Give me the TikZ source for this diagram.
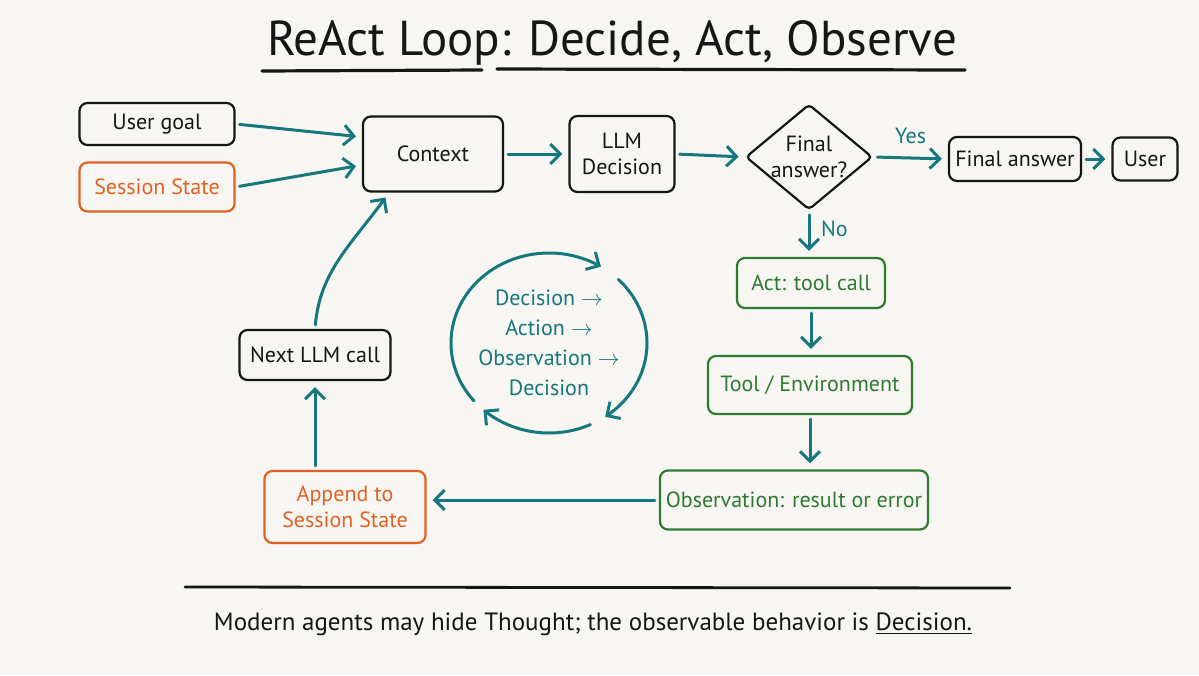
\documentclass[tikz,border=0pt]{standalone}
\usepackage{fontspec}
\setmainfont{PT Sans}
\usetikzlibrary{arrows.meta,shapes.geometric,bending}
\definecolor{paper}{RGB}{247,246,242}
\definecolor{ink}{RGB}{22,22,22}
\definecolor{flowteal}{RGB}{22,120,126}
\definecolor{stateorange}{RGB}{226,98,36}
\definecolor{actgreen}{RGB}{46,122,48}

\begin{document}
\begin{tikzpicture}[x=0.5pt,y=-0.5pt,
    box/.style={draw=ink, text=ink, line width=1.1pt, rounded corners=4pt,
      align=center, inner sep=0pt, font=\fontsize{11}{13}\selectfont},
    statebox/.style={box, draw=stateorange, text=stateorange},
    actbox/.style={box, draw=actgreen, text=actgreen},
    flow/.style={draw=flowteal, line width=1.5pt, line cap=round,
      -{Straight Barb[length=5pt,width=10pt,line width=1.5pt,flex]},
      shorten <=2pt, shorten >=3pt},
    flowlabel/.style={text=flowteal, font=\fontsize{11}{13}\selectfont}]

    % 背景与边界
    \fill[paper] (0,0) rectangle (1199,675);
    \useasboundingbox (0,0) rectangle (1199,675);

    % 标题
    \node[text=ink, font=\fontsize{24.5}{28}\selectfont] (title) at (612,43)
        {ReAct Loop: Decide, Act, Observe};
    \draw[ink, line width=1.6pt, line cap=round] (262,71) -- (482,70);
    \draw[ink, line width=1.6pt, line cap=round] (497,69) -- (965,70);

    % 输入
    \node[box, minimum width=77.5pt, minimum height=21pt] (goal) at (157,124) {User goal};
    \node[statebox, minimum width=77.5pt, minimum height=24.5pt] (state) at (157,187) {Session State};

    % 主流程
    \node[box, minimum width=70pt, minimum height=37.5pt] (ctx) at (433,154) {Context};
    \node[box, minimum width=52.5pt, minimum height=38pt] (llm) at (622,154) {LLM\\Decision};
    \node[diamond, draw=ink, text=ink, line width=1.1pt, rounded corners=2pt,
        shape aspect=1.2, inner sep=0pt, minimum width=61pt, minimum height=50.5pt,
        align=center, font=\fontsize{11}{13}\selectfont] (final) at (809,157) {Final\\answer?};
    \node[box, minimum width=66pt, minimum height=22pt] (answer) at (1015,159) {Final answer};
    \node[box, minimum width=32.5pt, minimum height=21.5pt] (user) at (1145,159) {User};

    % 工具分支
    \node[actbox, minimum width=74pt, minimum height=25pt] (act) at (811,283) {Act: tool call};
    \node[actbox, minimum width=102pt, minimum height=29pt] (env) at (810,385) {Tool / Environment};
    \node[actbox, minimum width=134pt, minimum height=29.5pt] (obs) at (794,500) {Observation: result or error};
    \node[statebox, minimum width=80.5pt, minimum height=36pt] (append) at (345,507) {Append to\\Session State};
    \node[box, minimum width=75.5pt, minimum height=25pt] (next) at (315,355) {Next LLM call};

    % 连线
    \draw[flow] (goal.east) -- ([yshift=8.5pt]ctx.west);
    \draw[flow] (state.east) -- ([yshift=-5.5pt]ctx.west);
    \draw[flow] (ctx.east) -- (llm.west);
    \draw[flow] (llm.east) -- (final.west);
    \draw[flow] (final.east) -- (answer.west) node[flowlabel, midway, above=3pt] {Yes};
    \draw[flow] (answer.east) -- (user.west);
    \draw[flow] (final.south) -- (final.south |- act.north) node[flowlabel, pos=0.4, right=2pt] {No};
    \draw[flow] (act.south) -- (act.south |- env.north);
    \draw[flow] (env.south) -- (env.south |- obs.north);
    \draw[flow] (obs.west) -- (obs.west -| append.east);
    \draw[flow] (append.north -| next.south) -- (next.south);
    \draw[flow] (next.north) to[out=85, in=235] ([xshift=-22pt]ctx.south);

    % 中间的循环
    \coordinate (loop) at (549,343);
    \node[text=flowteal, align=center, font=\fontsize{11}{15}\selectfont] (cycle) at (loop)
        {Decision $\to$\\Action $\to$\\Observation $\to$\\Decision};
    \draw[flow, shorten <=0pt, shorten >=0pt] ([shift={(220:49pt and 45pt)}]loop)
        arc[start angle=220, end angle=58, x radius=49pt, y radius=45pt];
    \draw[flow, shorten <=0pt, shorten >=0pt] ([shift={(45:49pt and 45pt)}]loop)
        arc[start angle=45, end angle=-55, x radius=49pt, y radius=45pt];
    \draw[flow, shorten <=0pt, shorten >=0pt] ([shift={(-65:49pt and 45pt)}]loop)
        arc[start angle=-65, end angle=-132, x radius=49pt, y radius=45pt];

    % 底部说明
    \draw[ink, line width=1.4pt, line cap=round] (185,587) -- (1010,588);
    \node[text=ink, font=\fontsize{12.5}{15}\selectfont] (note) at (593,624)
        {Modern agents may hide Thought; the observable behavior is \underline{Decision.}};
\end{tikzpicture}
\end{document}
